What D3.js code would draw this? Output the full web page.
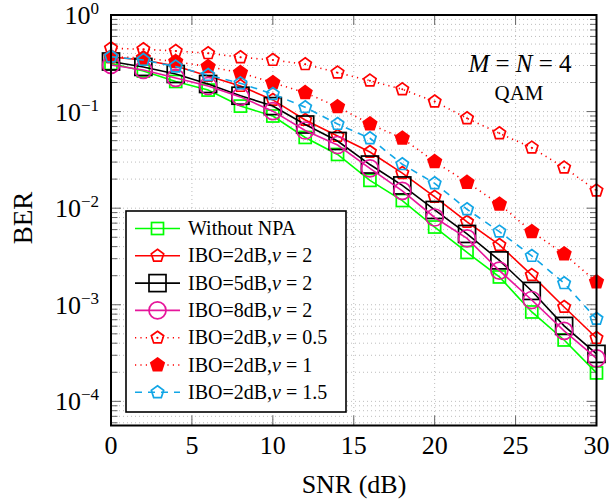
<!DOCTYPE html>
<html><head><meta charset="utf-8">
<script src="https://cdn.jsdelivr.net/npm/d3@7"></script>
<style>body{margin:0;background:#fff}svg{display:block}</style>
</head><body>
<svg id="c" width="609" height="501"></svg>
<script>
const snr = [0,2,4,6,8,10,12,14,16,18,20,22,24,26,28,30];
const xTicks = [0,5,10,15,20,25,30];
const yTickExps = [0,-1,-2,-3,-4];
const withoutNPA = [0.315,0.263,0.205,0.167,0.114,0.090,0.054,0.036,0.0194,0.0120,0.00638,0.00348,0.00194,8.42e-4,4.32e-4,1.97e-4];
const ibo2v2 = [0.367,0.342,0.297,0.234,0.184,0.132,0.0819,0.0559,0.0382,0.0231,0.0131,0.00720,0.00416,0.00203,9.49e-4,4.53e-4];
const ibo5v2 = [0.330,0.290,0.245,0.193,0.146,0.114,0.0735,0.0496,0.0283,0.0172,0.00958,0.00541,0.00288,0.00139,6.04e-4,3.10e-4];
const ibo8v2 = [0.304,0.270,0.223,0.184,0.142,0.101,0.0637,0.0451,0.0258,0.0151,0.00801,0.00486,0.00226,0.00112,5.36e-4,2.78e-4];
const ibo2v05 = [0.452,0.442,0.424,0.402,0.365,0.342,0.309,0.253,0.209,0.170,0.127,0.0852,0.0596,0.0423,0.0263,0.0152];
const ibo2v1 = [0.370,0.359,0.329,0.292,0.253,0.199,0.157,0.112,0.0744,0.0529,0.0303,0.0185,0.0110,0.00571,0.00336,0.00172];
const ibo2v15 = [0.370,0.342,0.292,0.239,0.196,0.152,0.111,0.0744,0.0529,0.0285,0.0181,0.00974,0.00571,0.00320,0.00167,7.13e-4];
const legendLabels = ["Without NPA","IBO=2dB,","IBO=5dB,","IBO=8dB,","IBO=2dB,","IBO=2dB,","IBO=2dB,"];
const legendV = [null,"2","2","2","0.5","1","1.5"];

const series = [
  {data:withoutNPA, color:"#00ff00", dash:null, mark:"square", size:12, fill:"none"},
  {data:ibo2v2, color:"#ff0000", dash:null, mark:"pent", size:12, fill:"none"},
  {data:ibo5v2, color:"#000000", dash:null, mark:"square", size:17, fill:"none"},
  {data:ibo8v2, color:"#e6169b", dash:null, mark:"circle", size:17, fill:"none"},
  {data:ibo2v05, color:"#ff0000", dash:"1.2,4.2", mark:"pent", size:12, fill:"none", dot:true},
  {data:ibo2v1, color:"#ff0000", dash:"1.2,4.2", mark:"pent", size:13, fill:"#ff0000"},
  {data:ibo2v15, color:"#12a6e6", dash:"7,6", mark:"pent", size:12, fill:"none"}
];

const svg = d3.select("#c");
const L=111, R=596.5, T=15, B=425.5;
const x = d3.scaleLinear([0,30],[L,R]);
const y = d3.scaleLog([Math.pow(10,-4.25),1],[B,T]);
const serif = "'Liberation Serif','DejaVu Serif',serif";

// grid
const g = svg.append("g");
const minorVals = [];
for (let e=-5;e<=0;e++) for (let k=1;k<=9;k++){const v=k*Math.pow(10,e); if(v>=y.domain()[0]&&v<=1) minorVals.push({v, major:k===1});}
g.selectAll("line.hg").data(minorVals).join("line")
  .attr("x1",L).attr("x2",R).attr("y1",d=>y(d.v)).attr("y2",d=>y(d.v))
  .attr("stroke","#bdbdbd").attr("stroke-width",1).attr("stroke-dasharray","1,3");
g.selectAll("line.vg").data(xTicks).join("line")
  .attr("x1",d=>x(d)).attr("x2",d=>x(d)).attr("y1",T).attr("y2",B)
  .attr("stroke","#bdbdbd").attr("stroke-width",1).attr("stroke-dasharray","1,3");

// ticks
const tk = svg.append("g").attr("stroke","#666").attr("stroke-width",1);
minorVals.forEach(d=>{
  const len = d.major?10:6.5;
  tk.append("line").attr("x1",L).attr("x2",L+len).attr("y1",y(d.v)).attr("y2",y(d.v));
  tk.append("line").attr("x1",R).attr("x2",R-len).attr("y1",y(d.v)).attr("y2",y(d.v));
});
xTicks.forEach(d=>{
  tk.append("line").attr("x1",x(d)).attr("x2",x(d)).attr("y1",B).attr("y2",B-10);
  tk.append("line").attr("x1",x(d)).attr("x2",x(d)).attr("y1",T).attr("y2",T+10);
});

// marker shapes
function pentPath(r){
  const pts=[];
  for(let i=0;i<5;i++){const a=-Math.PI/2+i*2*Math.PI/5; pts.push([r*Math.cos(a),r*Math.sin(a)]);}
  return "M"+pts.map(p=>p.join(",")).join("L")+"Z";
}
function drawMarker(sel, s, cx, cy){
  const gg = sel.append("g").attr("transform",`translate(${cx},${cy})`);
  if(s.mark==="square"){
    gg.append("rect").attr("x",-s.size/2).attr("y",-s.size/2).attr("width",s.size).attr("height",s.size)
      .attr("fill",s.fill).attr("stroke",s.color).attr("stroke-width",1.7);
  } else if(s.mark==="circle"){
    gg.append("circle").attr("r",s.size/2).attr("fill",s.fill).attr("stroke",s.color).attr("stroke-width",1.7);
  } else {
    gg.append("path").attr("d",pentPath(s.size/2+0.5)).attr("fill",s.fill).attr("stroke",s.color).attr("stroke-width",1.7).attr("stroke-linejoin","miter");
    if(s.dot) gg.append("circle").attr("r",1).attr("fill",s.color);
  }
}

// lines and markers
const line = d3.line().x((d,i)=>x(snr[i])).y(d=>y(d));
const plot = svg.append("g");
series.forEach(s=>{
  plot.append("path").attr("d",line(s.data)).attr("fill","none").attr("stroke",s.color)
    .attr("stroke-width",1.6).attr("stroke-dasharray",s.dash);
  s.data.forEach((v,i)=>drawMarker(plot,s,x(snr[i]),y(v)));
});

// frame
svg.append("rect").attr("x",L).attr("y",T).attr("width",R-L).attr("height",B-T)
  .attr("fill","none").attr("stroke","#000").attr("stroke-width",2);

// axis labels
const xl = svg.append("g").attr("font-family",serif).attr("font-size",26).attr("text-anchor","middle");
xTicks.forEach(d=>xl.append("text").attr("x",x(d)).attr("y",454).text(d));
yTickExps.forEach(e=>{
  const t = svg.append("text").attr("font-family",serif).attr("text-anchor","end")
    .attr("x",99).attr("y",y(Math.pow(10,e))+9);
  t.append("tspan").attr("font-size",26).text("10");
  t.append("tspan").attr("font-size",17).attr("dy",-10).text(e===0?"0":"\u2212"+(-e));
});
svg.append("text").attr("font-family",serif).attr("font-size",26).attr("text-anchor","middle")
  .attr("x",354).attr("y",493).text("SNR (dB)");
svg.append("text").attr("font-family",serif).attr("font-size",27).attr("text-anchor","middle")
  .attr("transform","translate(32,218) rotate(-90)").text("BER");

// annotation
const ann = svg.append("text").attr("font-family",serif).attr("font-size",25).attr("text-anchor","middle").attr("x",520).attr("y",72);
ann.append("tspan").attr("font-style","italic").text("M");
ann.append("tspan").text(" = ");
ann.append("tspan").attr("font-style","italic").text("N");
ann.append("tspan").text(" = 4");
svg.append("text").attr("font-family",serif).attr("font-size",21).attr("text-anchor","middle").attr("x",519).attr("y",100).text("QAM");

// legend
const lg = svg.append("g");
lg.append("rect").attr("x",126).attr("y",211).attr("width",220).attr("height",201)
  .attr("fill","#fff").attr("stroke","#000").attr("stroke-width",1.6);
series.forEach((s,i)=>{
  const yy = 228.5 + i*27.3;
  lg.append("line").attr("x1",135).attr("x2",180).attr("y1",yy).attr("y2",yy)
    .attr("stroke",s.color).attr("stroke-width",1.6).attr("stroke-dasharray",s.dash);
  drawMarker(lg,s,157.5,yy);
  const t = lg.append("text").attr("font-family",serif).attr("font-size",20).attr("x",188).attr("y",yy+6.5);
  t.append("tspan").text(legendLabels[i]);
  if(legendV[i]!==null){
    t.append("tspan").attr("font-style","italic").text("v");
    t.append("tspan").text(" = "+legendV[i]);
  }
});
</script>
</body></html>
